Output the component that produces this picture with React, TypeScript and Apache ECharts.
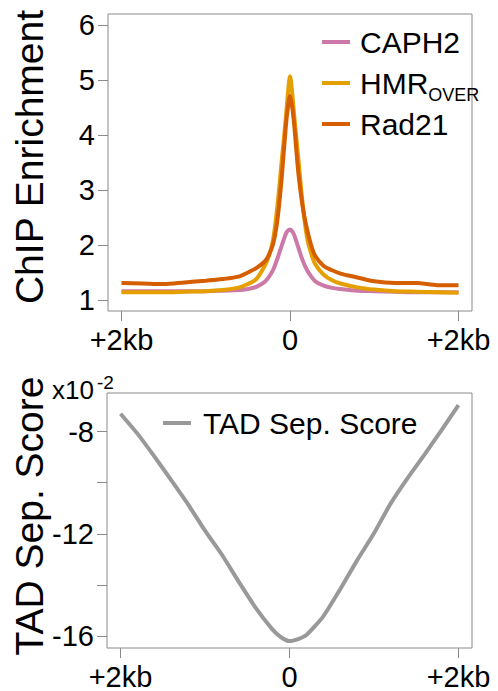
import React, { useEffect, useRef } from "react";
import * as echarts from "echarts";

// Position relative to the feature centre, in bp
const peakX = [-2000, -1750, -1500, -1250, -1000, -800, -600, -500, -400, -300, -250, -200, -150, -100, -50, -25, 0, 25, 50, 100, 150, 200, 250, 300, 400, 500, 600, 800, 1000, 1250, 1500, 1750, 2000];

// ChIP enrichment profiles
const caph2 = [1.16, 1.16, 1.16, 1.16, 1.16, 1.17, 1.18, 1.2, 1.24, 1.33, 1.42, 1.55, 1.75, 1.98, 2.2, 2.26, 2.28, 2.25, 2.18, 1.95, 1.72, 1.55, 1.43, 1.34, 1.26, 1.22, 1.2, 1.17, 1.16, 1.15, 1.14, 1.14, 1.14];
const hmrOver = [1.14, 1.14, 1.14, 1.15, 1.16, 1.18, 1.23, 1.29, 1.38, 1.62, 1.8, 2.1, 2.7, 3.5, 4.3, 4.75, 5.07, 4.78, 4.35, 3.55, 2.75, 2.15, 1.85, 1.65, 1.46, 1.36, 1.3, 1.23, 1.19, 1.16, 1.15, 1.14, 1.13];
const rad21 = [1.31, 1.3, 1.29, 1.32, 1.35, 1.38, 1.43, 1.5, 1.58, 1.7, 1.82, 2.02, 2.45, 3.2, 4.15, 4.5, 4.71, 4.52, 4.18, 3.3, 2.7, 2.3, 2.0, 1.8, 1.62, 1.54, 1.48, 1.41, 1.34, 1.31, 1.31, 1.27, 1.27];

// TAD separation score, in units of 1e-2
const tadX = [-2000, -1800, -1600, -1400, -1200, -1000, -800, -600, -400, -200, -100, 0, 100, 200, 400, 600, 800, 1000, 1200, 1400, 1600, 1800, 2000];
const tadScore = [-7.3, -8.08, -8.97, -9.9, -10.85, -11.88, -12.82, -13.88, -14.9, -15.75, -16.05, -16.2, -16.12, -15.96, -15.23, -14.17, -13.04, -11.98, -10.8, -9.81, -8.89, -7.94, -6.96];

const xTicks = [-2000, 0, 2000];
const enrichTicks = [1, 2, 3, 4, 5, 6];
const tadTicks = [-16, -14, -12, -10, -8];
const tadLabels = [-16, -12, -8];

const FONT = '"Liberation Sans", Arial, Helvetica, sans-serif';
const AXIS_GREY = "#8a8a8a";

const pairs = (xs: number[], ys: number[]) => xs.map((x, i) => [x, ys[i]]);
const xLabel = (v: number) => (v === 0 ? "0" : "+2kb");

function xAxisFor(gridIndex: number) {
  return {
    gridIndex,
    type: "value",
    min: -2160,
    max: 2160,
    axisLine: { show: false, onZero: false },
    splitLine: { show: false },
    axisTick: { show: true, length: 10, customValues: xTicks, lineStyle: { color: AXIS_GREY, width: 1 } },
    axisLabel: { customValues: xTicks, formatter: xLabel, fontSize: 29, color: "#000", fontFamily: FONT, margin: 14 },
  };
}

function yAxisFor(gridIndex: number, min: number, max: number, ticks: number[], labels: number[]) {
  return {
    gridIndex,
    type: "value",
    min,
    max,
    axisLine: { show: false, onZero: false },
    splitLine: { show: false },
    axisTick: { show: true, length: 10, customValues: ticks, lineStyle: { color: AXIS_GREY, width: 1 } },
    axisLabel: { customValues: labels, fontSize: 29, color: "#000", fontFamily: FONT, margin: 13 },
  };
}

const legendBase = {
  orient: "horizontal",
  padding: 0,
  itemWidth: 28,
  itemHeight: 4,
  icon: "rect",
  itemGap: 0,
  textStyle: { fontSize: 30, color: "#000", fontFamily: FONT, padding: [0, 0, 0, 5] },
};

export default function App() {
  const ref = useRef<HTMLDivElement>(null);

  useEffect(() => {
    if (!ref.current) return;
    const chart = echarts.init(ref.current, undefined, { renderer: "svg" });

    const lineSeries = (name: string, color: string, xs: number[], ys: number[], idx: number, smooth: number) => ({
      name,
      type: "line",
      xAxisIndex: idx,
      yAxisIndex: idx,
      data: pairs(xs, ys),
      showSymbol: false,
      smooth,
      color,
      lineStyle: { color, width: 4 },
    });

    chart.setOption({
      animation: false,
      backgroundColor: "#fff",
      grid: [
        { left: 108, top: 14, width: 364, height: 297, show: true, borderColor: AXIS_GREY, borderWidth: 1 },
        { left: 107, top: 393, width: 365, height: 255, show: true, borderColor: AXIS_GREY, borderWidth: 1 },
      ],
      xAxis: [xAxisFor(0), xAxisFor(1)],
      yAxis: [
        yAxisFor(0, 0.8, 6.2, enrichTicks, enrichTicks),
        yAxisFor(1, -16.47, -6.49, tadTicks, tadLabels),
      ],
      legend: [
        { ...legendBase, data: ["CAPH2"], left: 322, top: 27 },
        {
          ...legendBase,
          data: ["HMR"],
          left: 322,
          top: 68,
          formatter: () => "{m|HMR}{s|OVER}",
          textStyle: {
            ...legendBase.textStyle,
            rich: {
              m: { fontSize: 30, lineHeight: 30, verticalAlign: "top", fontFamily: FONT, color: "#000" },
              s: { fontSize: 18, lineHeight: 12, padding: [18, 0, 0, 0], verticalAlign: "top", fontFamily: FONT, color: "#000" },
            },
          },
        },
        { ...legendBase, data: ["Rad21"], left: 322, top: 109 },
        { ...legendBase, data: ["TAD Sep. Score"], left: 163, top: 408, textStyle: { ...legendBase.textStyle, padding: [0, 0, 0, 7] } },
      ],
      graphic: [
        {
          type: "text",
          x: 29,
          y: 157,
          rotation: Math.PI / 2,
          style: { text: "ChIP Enrichment", font: `39px ${FONT}`, fill: "#000", align: "center", verticalAlign: "middle" },
        },
        {
          type: "text",
          x: 29,
          y: 516,
          rotation: Math.PI / 2,
          style: { text: "TAD Sep. Score", font: `39px ${FONT}`, fill: "#000", align: "center", verticalAlign: "middle" },
        },
        {
          type: "text",
          x: 52,
          y: 390,
          style: { text: "x10", font: `26px ${FONT}`, fill: "#000", align: "left", verticalAlign: "middle" },
        },
        {
          type: "text",
          x: 97,
          y: 382,
          style: { text: "-2", font: `19px ${FONT}`, fill: "#000", align: "left", verticalAlign: "middle" },
        },
      ],
      series: [
        lineSeries("CAPH2", "#CC79A7", peakX, caph2, 0, 0.3),
        lineSeries("HMR", "#E69F00", peakX, hmrOver, 0, 0.3),
        lineSeries("Rad21", "#D55E00", peakX, rad21, 0, 0.3),
        lineSeries("TAD Sep. Score", "#999999", tadX, tadScore, 1, 0.2),
      ],
    });

    return () => chart.dispose();
  }, []);

  return <div ref={ref} style={{ position: "fixed", left: 0, top: 0, width: 498, height: 691 }} />;
}
